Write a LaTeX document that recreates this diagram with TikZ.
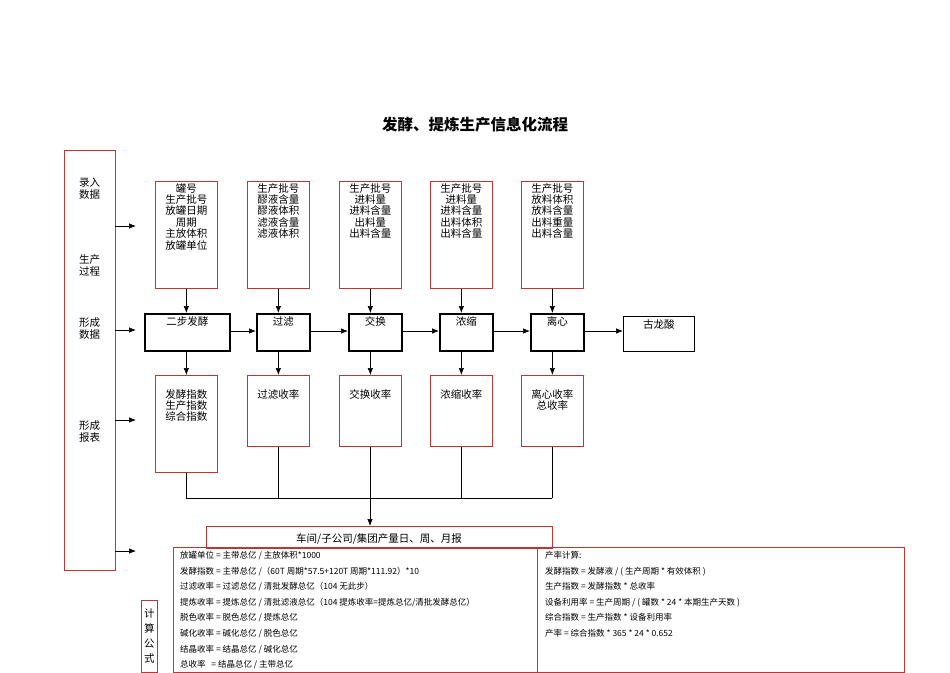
\documentclass[tikz,border=0pt]{standalone}
\usepackage{fontspec}
\setmainfont{Noto Sans CJK SC}
\usetikzlibrary{arrows.meta}
\begin{document}
\begin{tikzpicture}[x=1pt,y=-1pt,
  rbox/.style={draw=red!70!black!80,line width=0.7pt,anchor=north west,inner sep=0pt},
  pbox/.style={draw,line width=1.6pt,anchor=north west,inner sep=0pt},
  txt/.style={font=\fontsize{10.5}{11.4}\selectfont,align=center,anchor=north,inner sep=0pt},
  ftxt/.style={font=\fontsize{8.5}{15.6}\selectfont,align=left,anchor=north west,inner sep=0pt},
  arr/.style={-{Latex[length=7pt,width=5.5pt]},line width=0.7pt},
  ln/.style={line width=0.7pt}]
\useasboundingbox (0,0) rectangle (950,672);
\node[font=\bfseries\fontsize{15.5}{18}\selectfont] (title) at (475,125) {发酵、提炼生产信息化流程};
% left column
\node[rbox,minimum width=51pt,minimum height=420pt] (left) at (64,150) {};
\foreach \t/\y in {录入\\数据/189, 生产\\过程/265, 形成\\数据/329, 形成\\报表/432}
  \node[font=\fontsize{10.5}{12}\selectfont,align=center] at (89.5,\y) {\t};
\foreach \y/\n in {226/a1,330/a2,420/a3,551/a4}{
  \coordinate (s\n) at (115,\y); \coordinate (e\n) at (136,\y);
  \draw[arr] (s\n) -- (e\n);}
% top boxes
\foreach \x/\n/\t in {155/t1/{罐号\\生产批号\\放罐日期\\周期\\主放体积\\放罐单位},
  247/t2/{生产批号\\醪液含量\\醪液体积\\滤液含量\\滤液体积},
  339/t3/{生产批号\\进料量\\进料含量\\出料量\\出料含量},
  430/t4/{生产批号\\进料量\\进料含量\\出料体积\\出料含量},
  521/t5/{生产批号\\放料体积\\放料含量\\出料重量\\出料含量}}{
  \node[rbox,minimum width=62pt,minimum height=107pt] (\n) at (\x,181) {};
  \node[txt] at ([yshift=-2pt]\n.north) {\t};}
% process boxes
\node[pbox,minimum width=85pt,minimum height=37pt] (p1) at (144,313) {};
\node[pbox,minimum width=53pt,minimum height=37pt] (p2) at (256,313) {};
\node[pbox,minimum width=53pt,minimum height=37pt] (p3) at (348,313) {};
\node[pbox,minimum width=53pt,minimum height=37pt] (p4) at (439,313) {};
\node[pbox,minimum width=53pt,minimum height=37pt] (p5) at (530,313) {};
\node[draw,line width=0.7pt,anchor=north west,minimum width=71pt,minimum height=35pt,inner sep=0pt] (p6) at (623,316) {};
\foreach \n/\t in {p1/二步发酵,p2/过滤,p3/交换,p4/浓缩,p5/离心,p6/古龙酸}
  \node[font=\fontsize{10.5}{12}\selectfont,anchor=north,inner sep=0pt] at ([yshift=-3pt]\n.north) {\t};
\foreach \a/\b in {p1/p2,p2/p3,p3/p4,p4/p5,p5/p6}
  \draw[arr] (\a.east |- 0,331) -- (\b.west |- 0,331);
\foreach \i in {1,...,5} \draw[arr] (t\i.south) -- (t\i.south |- p\i.north);
% bottom boxes
\node[rbox,minimum width=62pt,minimum height=97pt] (b1) at (155,375) {};
\node[rbox,minimum width=62pt,minimum height=71pt] (b2) at (247,375) {};
\node[rbox,minimum width=62pt,minimum height=71pt] (b3) at (339,375) {};
\node[rbox,minimum width=62pt,minimum height=71pt] (b4) at (430,375) {};
\node[rbox,minimum width=62pt,minimum height=71pt] (b5) at (521,375) {};
\foreach \n/\t in {b1/{发酵指数\\生产指数\\综合指数},b2/过滤收率,b3/交换收率,b4/浓缩收率,b5/{离心收率\\总收率}}
  \node[txt] at ([yshift=-14pt]\n.north) {\t};
\foreach \i in {1,...,5} \draw[arr] (p\i.south -| t\i.south) -- (b\i.north);
% collector
\coordinate (j) at (370,498);
\foreach \i in {1,...,5} \draw[ln] (b\i.south) -- (b\i.south |- j);
\draw[ln] (b1.south |- j) -- (b5.south |- j);
\node[rbox,minimum width=346pt,minimum height=22pt] (rep) at (206,526) {};
\node[font=\fontsize{10.5}{12}\selectfont] at (379,539) {车间/子公司/集团产量日、周、月报};
\draw[arr] (j) -- (j |- rep.north);
% formula boxes
\node[rbox,minimum width=364pt,minimum height=125pt] (f1) at (173,547) {};
\node[rbox,minimum width=367pt,minimum height=125pt] (f2) at (537,547) {};
\node[rbox,minimum width=16pt,minimum height=72pt] (f0) at (141,600) {};
\node[font=\fontsize{10.5}{15}\selectfont,align=center] at (f0.center) {计\\算\\公\\式};
\node[ftxt] at (180,551) {放罐单位 = 主带总亿 / 主放体积*1000\\
发酵指数 = 主带总亿 /（60T 周期*57.5+120T 周期*111.92）*10\\
过滤收率 = 过滤总亿 / 清批发酵总亿（104 无此步）\\
提炼收率 = 提炼总亿 / 清批滤液总亿（104 提炼收率=提炼总亿/清批发酵总亿）\\
脱色收率 = 脱色总亿 / 提炼总亿\\
碱化收率 = 碱化总亿 / 脱色总亿\\
结晶收率 = 结晶总亿 / 碱化总亿\\
总收率 \ \ = 结晶总亿 / 主带总亿};
\node[ftxt] at (545,551) {产率计算:\\
发酵指数 = 发酵液 / ( 生产周期 * 有效体积 )\\
生产指数 = 发酵指数 * 总收率\\
设备利用率 = 生产周期 / ( 罐数 * 24 * 本期生产天数 )\\
综合指数 = 生产指数 * 设备利用率\\
产率 = 综合指数 * 365 * 24 * 0.652};
\end{tikzpicture}
\end{document}
